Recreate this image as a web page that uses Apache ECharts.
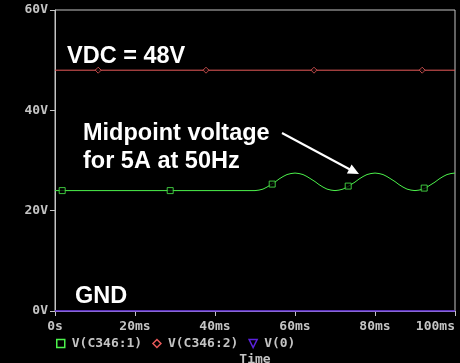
<!DOCTYPE html>
<html>
<head>
<meta charset="utf-8">
<script src="https://cdn.jsdelivr.net/npm/echarts@6/dist/echarts.min.js"></script>
<style>
html,body{margin:0;padding:0;background:#000;}
#c{width:460px;height:363px;}
</style>
</head>
<body>
<div id="c"></div>
<script>
// ---- data ----
var xTicks = [0, 20, 40, 60, 80, 100];           // ms
var yTicks = [0, 20, 40, 60];                    // V
// V(C346:1): midpoint voltage (ms, V)
var midTime  = [0, 10, 20, 30, 40, 50, 51, 52, 53, 54, 55, 56, 57, 58, 59, 60,
                61, 62, 63, 64, 65, 66, 67, 68, 69, 70,
                71, 72, 73, 74, 75, 76, 77, 78, 79, 80,
                81, 82, 83, 84, 85, 86, 87, 88, 89, 90,
                91, 92, 93, 94, 95, 96, 97, 98, 99, 100];
var midVolts = [24, 24, 24, 24, 24, 24.0, 24.1, 24.3, 24.7, 25.2, 25.7, 26.3, 26.8, 27.2, 27.4, 27.5,
                27.4, 27.2, 26.8, 26.3, 25.8, 25.2, 24.7, 24.3, 24.1, 24.0,
                24.1, 24.3, 24.7, 25.2, 25.7, 26.3, 26.8, 27.2, 27.4, 27.5,
                27.4, 27.2, 26.8, 26.3, 25.8, 25.2, 24.7, 24.3, 24.1, 24.0,
                24.1, 24.3, 24.7, 25.2, 25.7, 26.3, 26.8, 27.2, 27.4, 27.5];
var midMarkTime  = [1.8, 28.8, 54.3, 73.3, 92.3];
var midMarkVolts = [24, 24, 25.3, 24.9, 24.5];
// V(C346:2): DC bus
var vdcTime  = [0, 100];
var vdcVolts = [48, 48];
var vdcMarkTime  = [10.8, 37.75, 64.75, 91.8];
var vdcMarkVolts = [48, 48, 48, 48];
// V(0): ground
var gndTime  = [0, 100];
var gndVolts = [0, 0];

var seriesNames = ['V(C346:1)', 'V(C346:2)', 'V(0)'];
var GREEN = '#4cf24c', RED = '#e85a5a', BLUE = '#5b22dd', GRAY = '#c4c4c4';

function pairs(xs, ys){ return xs.map(function(x,i){ return [x, ys[i]]; }); }

var chart = echarts.init(document.getElementById('c'));
var mono = '"DejaVu Sans Mono", monospace';
chart.setOption({
  backgroundColor: '#000',
  animation: false,
  grid: {left: 55, right: 5, top: 10, bottom: 52, show: true, borderColor: GRAY, borderWidth: 1,
         containLabel: false, outerBoundsMode: 'none'},
  xAxis: {
    type: 'value', min: xTicks[0], max: xTicks[xTicks.length-1], interval: 20,
    name: 'Time', nameLocation: 'middle', nameGap: 42,
    nameTextStyle: {color: GRAY, fontFamily: mono, fontSize: 13, fontWeight: 'bold'},
    axisLine: {show: true, lineStyle: {color: GRAY, width: 1}},
    axisTick: {show: true, length: 5, inside: false, lineStyle: {color: GRAY}},
    splitLine: {show: false},
    axisLabel: {color: GRAY, fontFamily: mono, fontSize: 13, fontWeight: 'bold', margin: 9,
      alignMaxLabel: 'right',
      formatter: function(v){ return v === 0 ? '0s' : v + 'ms'; }}
  },
  yAxis: {
    type: 'value', min: yTicks[0], max: yTicks[yTicks.length-1], interval: 20,
    axisLine: {show: true, lineStyle: {color: GRAY, width: 1}},
    axisTick: {show: true, length: 5, lineStyle: {color: GRAY}},
    splitLine: {show: false},
    axisLabel: {color: GRAY, fontFamily: mono, fontSize: 13, fontWeight: 'bold', margin: 7,
      formatter: '{value}V'}
  },
  legend: {
    left: 51, top: 332, itemWidth: 8, itemHeight: 8, itemGap: 10,
    textStyle: {color: GRAY, fontFamily: mono, fontSize: 13, fontWeight: 'bold', padding: [0,0,0,2]},
    selectedMode: false,
    data: [
      {name: seriesNames[0], icon: 'rect', itemStyle: {color: 'transparent', borderColor: GREEN, borderWidth: 1.5}},
      {name: seriesNames[1], icon: 'diamond', itemStyle: {color: 'transparent', borderColor: RED, borderWidth: 1.5}},
      {name: seriesNames[2], icon: 'path://M0,0 L10,0 L5,10 Z', itemStyle: {color: 'transparent', borderColor: BLUE, borderWidth: 1.5}}
    ]
  },
  series: [
    {name: seriesNames[0], type: 'line', data: pairs(midTime, midVolts), showSymbol: false,
     lineStyle: {color: GREEN, width: 1}, itemStyle: {color: GREEN}, z: 3},
    {name: seriesNames[1], type: 'line', data: pairs(vdcTime, vdcVolts), showSymbol: false,
     lineStyle: {color: RED, width: 1}, itemStyle: {color: RED}, z: 3},
    {name: seriesNames[2], type: 'line', data: pairs(gndTime, gndVolts), showSymbol: false,
     lineStyle: {color: BLUE, width: 1.5}, itemStyle: {color: BLUE}, z: 5},
    {type: 'scatter', data: pairs(midMarkTime, midMarkVolts), symbol: 'rect', symbolSize: 6,
     itemStyle: {color: '#000', borderColor: GREEN, borderWidth: 1}, z: 4, silent: true},
    {type: 'scatter', data: pairs(vdcMarkTime, vdcMarkVolts), symbol: 'diamond', symbolSize: 6,
     itemStyle: {color: '#000', borderColor: RED, borderWidth: 1}, z: 4, silent: true}
  ],
  graphic: [
    {type: 'text', left: 67, top: 45, z: 10, style: {text: 'VDC = 48V', fill: '#fff', font: 'bold 23.5px "Liberation Sans", Arial, sans-serif'}},
    {type: 'text', left: 83, top: 119, z: 10, style: {text: 'Midpoint voltage\nfor 5A at 50Hz', fill: '#fff', lineHeight: 28.5, font: 'bold 23.5px "Liberation Sans", Arial, sans-serif'}},
    {type: 'text', left: 75, top: 285, z: 10, style: {text: 'GND', fill: '#fff', font: 'bold 23.5px "Liberation Sans", Arial, sans-serif'}},
    {type: 'line', z: 10, shape: {x1: 282, y1: 133, x2: 350, y2: 169.5}, style: {stroke: '#fff', lineWidth: 2}},
    {type: 'polygon', z: 10, shape: {points: [[359, 174], [346.9, 173.4], [351.6, 164.4]]}, style: {fill: '#fff'}}
  ]
});
</script>
</body>
</html>
